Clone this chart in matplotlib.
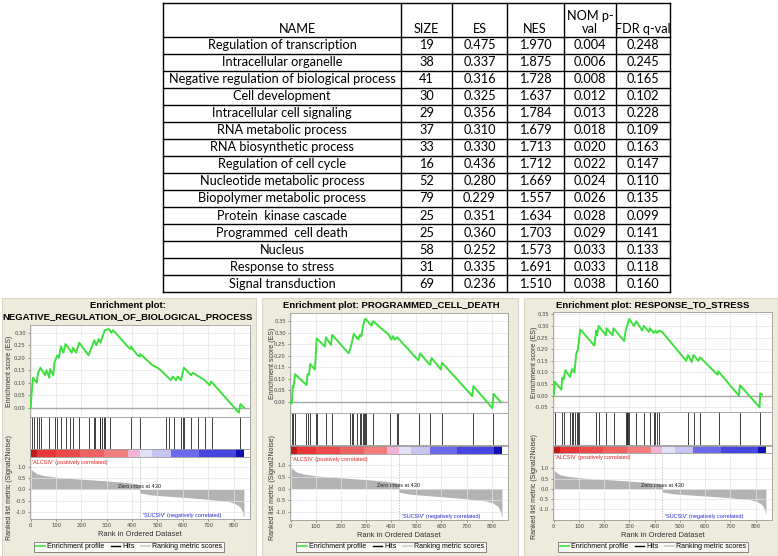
import matplotlib
matplotlib.use('Agg')
import matplotlib.pyplot as plt
from matplotlib.lines import Line2D
from matplotlib.patches import Rectangle

W, H = 778, 556

# ---- table data ----
headers = ['NAME', 'SIZE', 'ES', 'NES', 'NOM p-\nval', 'FDR q-val']
names = ['Regulation of transcription', 'Intracellular organelle',
         'Negative regulation of biological process', 'Cell development',
         'Intracellular cell signaling', 'RNA metabolic process',
         'RNA biosynthetic process', 'Regulation of cell cycle',
         'Nucleotide metabolic process', 'Biopolymer metabolic process',
         'Protein  kinase cascade', 'Programmed  cell death', 'Nucleus',
         'Response to stress', 'Signal transduction']
sizes = [19, 38, 41, 30, 29, 37, 33, 16, 52, 79, 25, 25, 58, 31, 69]
es = [0.475, 0.337, 0.316, 0.325, 0.356, 0.310, 0.330, 0.436, 0.280, 0.229,
      0.351, 0.360, 0.252, 0.335, 0.236]
nes = [1.970, 1.875, 1.728, 1.637, 1.784, 1.679, 1.713, 1.712, 1.669, 1.557,
       1.634, 1.703, 1.573, 1.691, 1.510]
nom_p = [0.004, 0.006, 0.008, 0.012, 0.013, 0.018, 0.020, 0.022, 0.024, 0.026,
         0.028, 0.029, 0.033, 0.033, 0.038]
fdr_q = [0.248, 0.245, 0.165, 0.102, 0.228, 0.109, 0.163, 0.147, 0.110, 0.135,
         0.099, 0.141, 0.133, 0.118, 0.160]

# ---- enrichment plot data ----
titles = ['Enrichment plot:\nNEGATIVE_REGULATION_OF_BIOLOGICAL_PROCESS',
          'Enrichment plot: PROGRAMMED_CELL_DEATH',
          'Enrichment plot: RESPONSE_TO_STRESS']

es1_rank = [0, 2, 9, 23, 29, 38, 56, 62, 73, 76, 89, 93, 105, 111, 119, 129, 137,
            162, 166, 179, 191, 228, 251, 259, 268, 275, 292, 308, 318, 325, 387,
            394, 395, 421, 431, 432, 480, 500, 513, 553, 560, 573, 580, 593, 604,
            633, 639, 686, 706, 712, 821, 827, 841]
es1_val = [0.0, 0.04, 0.12, 0.10, 0.14, 0.16, 0.13, 0.15, 0.12, 0.155, 0.13, 0.18,
           0.21, 0.20, 0.245, 0.22, 0.255, 0.22, 0.24, 0.22, 0.26, 0.21, 0.27,
           0.25, 0.275, 0.26, 0.31, 0.315, 0.30, 0.31, 0.24, 0.235, 0.245, 0.21,
           0.205, 0.215, 0.17, 0.16, 0.15, 0.11, 0.125, 0.11, 0.125, 0.11, 0.16,
           0.13, 0.14, 0.11, 0.09, 0.105, -0.02, 0.015, 0.0]
hits1 = [4, 13, 23, 33, 42, 73, 96, 102, 119, 138, 155, 166, 190, 231, 248, 255,
         272, 275, 281, 290, 294, 314, 394, 431, 533, 547, 567, 593, 600, 606,
         633, 659, 689, 715, 825]

es2_rank = [0, 4, 8, 11, 17, 63, 67, 73, 77, 96, 99, 103, 136, 140, 160, 165, 231,
            242, 251, 268, 275, 281, 288, 294, 298, 321, 327, 391, 400, 407, 413,
            424, 508, 515, 554, 561, 598, 602, 723, 727, 803, 807, 836]
es2_val = [0.0, -0.007, 0.068, 0.064, 0.12, 0.073, 0.12, 0.118, 0.164, 0.14, 0.19,
           0.275, 0.24, 0.28, 0.247, 0.29, 0.21, 0.25, 0.295, 0.27, 0.29, 0.283,
           0.33, 0.356, 0.36, 0.33, 0.35, 0.29, 0.27, 0.285, 0.27, 0.28, 0.18,
           0.21, 0.16, 0.19, 0.14, 0.17, 0.025, 0.068, -0.027, 0.035, 0.0]
hits2 = [4, 8, 15, 59, 67, 77, 99, 103, 140, 165, 235, 242, 248, 265, 275, 281,
         288, 292, 294, 298, 327, 397, 424, 429, 512, 556, 602, 727, 807]

es3_rank = [0, 4, 30, 34, 39, 46, 65, 73, 82, 89, 96, 105, 161, 168, 172, 178, 207,
            209, 233, 237, 279, 285, 299, 318, 327, 351, 357, 377, 381, 397, 403,
            410, 416, 429, 525, 532, 547, 554, 573, 580, 649, 652, 734, 738, 816,
            818, 825]
es3_val = [0.0, 0.06, 0.026, 0.078, 0.07, 0.11, 0.08, 0.115, 0.10, 0.18, 0.20,
           0.285, 0.215, 0.28, 0.26, 0.30, 0.26, 0.29, 0.26, 0.29, 0.235, 0.28,
           0.33, 0.30, 0.32, 0.28, 0.30, 0.275, 0.29, 0.27, 0.28, 0.27, 0.28,
           0.275, 0.15, 0.175, 0.145, 0.175, 0.15, 0.165, 0.09, 0.105, 0.0, 0.045,
           -0.05, 0.01, 0.005]
hits3 = [4, 34, 41, 65, 73, 78, 86, 91, 96, 102, 168, 178, 209, 237, 285, 289, 292,
         296, 299, 327, 357, 383, 397, 403, 410, 416, 532, 554, 580, 655, 737, 818]

# ranked list metric (same dataset in all three plots)
metric_rank = [0, 10, 23, 50, 102, 182, 275, 367, 414, 430, 431, 473, 566, 672,
               778, 805, 825, 834, 841]
metric_val = [0.91, 0.81, 0.70, 0.62, 0.54, 0.47, 0.40, 0.32, 0.26, 0.20, -0.15,
              -0.24, -0.32, -0.41, -0.53, -0.62, -0.76, -0.96, -1.25]
zero_cross = 430

bar_edges = [0, 26, 100, 195, 290, 384, 430, 480, 553, 663, 808, 841]
bar_colors = ['#c01a1a', '#e83535', '#ec4a4a', '#ee6262', '#f07c7c', '#f4b4d6',
              '#e2e0f8', '#c8c4f2', '#6a6aea', '#4646e0', '#1010b4']

es_ticks = [[0.0, 0.05, 0.10, 0.15, 0.20, 0.25, 0.30],
            [0.0, 0.05, 0.10, 0.15, 0.20, 0.25, 0.30, 0.35],
            [-0.05, 0.0, 0.05, 0.10, 0.15, 0.20, 0.25, 0.30, 0.35]]
met_ticks = [1.0, 0.5, 0.0, -0.5, -1.0]
rank_ticks = [0, 100, 200, 300, 400, 500, 600, 700, 800]

# ---- layout (pixels) ----
layouts = [
    dict(bg=(2, 298, 256, 556), tx=128, ty=311, es=(30, 325, 250, 417), esy=(-0.037, 0.331),
         hit=(30, 417, 250, 449), bar=(30, 449, 250, 457), met=(30, 457, 250, 519),
         mety=(-1.31, 1.44), ylx=10, lx=129),
    dict(bg=(262, 298, 518, 556), tx=391, ty=306, es=(290, 313, 508, 413), esy=(-0.048, 0.385),
         hit=(290, 413, 508, 445), bar=(290, 446, 508, 454), met=(290, 454, 508, 520),
         mety=(-1.34, 1.47), ylx=272, lx=391),
    dict(bg=(524, 298, 778, 556), tx=653, ty=306, es=(553, 312, 772, 412), esy=(-0.070, 0.36),
         hit=(553, 412, 772, 445), bar=(553, 446, 772, 453), met=(553, 453, 772, 520),
         mety=(-1.52, 1.75), ylx=534, lx=653),
]

NARROW = ['Liberation Sans', 'DejaVu Sans']

fig = plt.figure(figsize=(W / 100, H / 100), dpi=100)
fig.patch.set_facecolor('white')


def fx(x):
    return x / W


def fy(y):
    return 1 - y / H


def add_ax(b):
    x0, y0, x1, y1 = b
    return fig.add_axes([x0 / W, 1 - y1 / H, (x1 - x0) / W, (y1 - y0) / H])


def hline(x0, x1, y, lw=1.0):
    fig.add_artist(Line2D([fx(x0), fx(x1)], [fy(y), fy(y)], color='black', lw=lw))


def vline(x, y0, y1, lw=1.0):
    fig.add_artist(Line2D([fx(x), fx(x)], [fy(y0), fy(y1)], color='black', lw=lw))


# ---- table ----
col_x = [163, 401, 452, 507, 564, 616, 670]
top, head_bot, row_h = 3, 36.5, 17.05
n = len(names)
bottom = head_bot + n * row_h
hline(col_x[0], col_x[-1], top)
for i in range(n + 1):
    hline(col_x[0], col_x[-1], head_bot + i * row_h)
for x in col_x:
    vline(x, top, bottom)

TFONT = ['Lato', 'DejaVu Sans']
head_cx = [298, 426, 480, 535, 590, 643]
for j, h in enumerate(headers):
    fig.text(fx(head_cx[j]), fy(35), h, ha='center', va='bottom', fontsize=9.2,
             family=TFONT, linespacing=1.15)
for i in range(n):
    yc = fy(head_bot + (i + 0.5) * row_h)
    vals = [names[i], str(sizes[i]), '%.3f' % es[i], '%.3f' % nes[i],
            '%.3f' % nom_p[i], '%.3f' % fdr_q[i]]
    for j, v in enumerate(vals):
        cx = (col_x[j] + col_x[j + 1]) / 2
        fig.text(fx(cx), yc, v, ha='center', va='center', fontsize=9.2, family=TFONT)

# ---- enrichment plots ----
panels = [(es1_rank, es1_val, hits1), (es2_rank, es2_val, hits2), (es3_rank, es3_val, hits3)]
xlim = (-3, 865)
GRID = '#e4e4e4'
FRAME = '#9a9a9a'

for k, (lay, (rk, ev, hits)) in enumerate(zip(layouts, panels)):
    x0, y0, x1, y1 = lay['bg']
    fig.add_artist(Rectangle((fx(x0), fy(y1)), (x1 - x0) / W, (y1 - y0) / H,
                             transform=fig.transFigure, facecolor='#ecebdc',
                             edgecolor='#d8d6c4', lw=0.8, zorder=-5))
    fig.text(fx(lay['tx']), fy(lay['ty']), titles[k], ha='center', va='center',
             fontsize=6.8, fontweight='bold', family=NARROW, linespacing=1.25)

    # running enrichment score
    ax = add_ax(lay['es'])
    ax.plot(rk, ev, color='#3ee03e', lw=1.4, zorder=3)
    ax.axhline(0, color='#a8a8a8', lw=1.0, zorder=2)
    ax.set_xlim(xlim)
    ax.set_ylim(lay['esy'])
    ax.set_xticks(rank_ticks)
    ax.set_yticks(es_ticks[k])
    ax.set_yticklabels(['%.2f' % t for t in es_ticks[k]])
    ax.grid(True, color=GRID, lw=0.5)
    ax.tick_params(axis='x', length=0, labelbottom=False)
    ax.tick_params(axis='y', length=1.5, width=0.4, labelsize=3.8, pad=1.5,
                   colors='#444444')
    for s in ax.spines.values():
        s.set_color(FRAME)
        s.set_linewidth(0.6)

    # hits
    axh = add_ax(lay['hit'])
    axh.vlines(hits, 0, 1, color='#202020', lw=0.6)
    axh.set_xlim(xlim)
    axh.set_ylim(0, 1)
    axh.set_xticks([])
    axh.set_yticks([])
    for s in axh.spines.values():
        s.set_color(FRAME)
        s.set_linewidth(0.6)

    # colour bar
    axb = add_ax(lay['bar'])
    segs = [(bar_edges[i], bar_edges[i + 1] - bar_edges[i]) for i in range(len(bar_colors))]
    axb.broken_barh(segs, (0, 1), facecolors=bar_colors)
    axb.set_xlim(xlim)
    axb.set_ylim(0, 1)
    axb.set_xticks([])
    axb.set_yticks([])
    for s in axb.spines.values():
        s.set_color(FRAME)
        s.set_linewidth(0.6)

    # ranked list metric
    axm = add_ax(lay['met'])
    axm.fill_between(metric_rank, metric_val, 0, color='#b3b3b3', lw=0)
    axm.axvline(zero_cross, color='#aaaaaa', lw=0.5, ls=(0, (2, 2)))
    axm.set_xlim(xlim)
    axm.set_ylim(lay['mety'])
    axm.set_xticks(rank_ticks)
    axm.set_yticks(met_ticks)
    axm.set_yticklabels(['%.1f' % t for t in met_ticks])
    axm.grid(True, color=GRID, lw=0.5)
    axm.tick_params(length=1.5, width=0.4, labelsize=3.8, pad=1.5, colors='#444444')
    for s in axm.spines.values():
        s.set_color(FRAME)
        s.set_linewidth(0.6)
    axm.text(4, lay['mety'][1] - 0.12, "'ALCSIV' (positively correlated)", color='#e02020',
             fontsize=4.0, va='top', ha='left', family=NARROW)
    axm.text(zero_cross + 12, lay['mety'][0] + 0.06, "'SUCSIV' (negatively correlated)",
             color='#2828d0', fontsize=4.0, va='bottom', ha='left', family=NARROW)
    axm.text(zero_cross, 0.02, 'Zero cross at %d' % zero_cross, fontsize=4.0,
             ha='center', va='bottom', family=NARROW, color='#222222')
    axm.set_xlabel('Rank in Ordered Dataset', fontsize=5.4, family=NARROW, labelpad=2,
                   color='#333333')

    fig.text(fx(lay['ylx']), fy((lay['es'][1] + lay['es'][3]) / 2), 'Enrichment score (ES)',
             rotation=90, ha='center', va='center', fontsize=5.0, family=NARROW,
             color='#333333')
    fig.text(fx(lay['ylx']), fy((lay['met'][1] + lay['met'][3]) / 2),
             'Ranked list metric (Signal2Noise)', rotation=90, ha='center', va='center',
             fontsize=5.0, family=NARROW, color='#333333')

    handles = [Line2D([], [], color='#3ee03e', lw=1.2),
               Line2D([], [], color='black', lw=1.0),
               Line2D([], [], color='#cccccc', lw=1.2)]
    leg = fig.legend(handles, ['Enrichment profile', 'Hits', 'Ranking metric scores'],
                     loc='center', bbox_to_anchor=(fx(lay['lx']), fy(547)), ncol=3,
                     prop={'family': NARROW, 'size': 5.0},
                     handlelength=1.3, handletextpad=0.3, columnspacing=0.9,
                     borderpad=0.25, fancybox=False, frameon=True)
    leg.get_frame().set_edgecolor('#555555')
    leg.get_frame().set_linewidth(0.6)

fig.savefig('out.png', dpi=100)
